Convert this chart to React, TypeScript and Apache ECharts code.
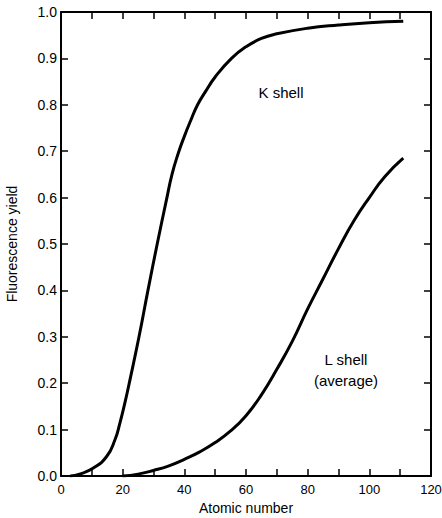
import React, { useEffect, useRef } from "react";
import * as echarts from "echarts";

const kShellZ = [3, 6, 10.5, 14.8, 17.5, 19.1, 20.7, 22.3, 25.3, 28.2, 31.2, 34.2, 36, 38, 40, 42, 44.3, 47, 50, 55.3, 60, 65, 70, 80, 90, 100, 111];
const kShellYield = [0, 0.004, 0.017, 0.042, 0.078, 0.114, 0.157, 0.205, 0.3, 0.4, 0.5, 0.595, 0.65, 0.695, 0.732, 0.765, 0.8, 0.83, 0.86, 0.9, 0.925, 0.943, 0.953, 0.965, 0.972, 0.977, 0.98];
const lShellZ = [20, 25, 30, 35, 40, 45, 50, 55, 60, 65, 70, 75, 80, 85, 90, 95, 100, 105, 111];
const lShellYield = [0, 0.004, 0.012, 0.022, 0.036, 0.052, 0.072, 0.097, 0.13, 0.175, 0.23, 0.29, 0.36, 0.425, 0.49, 0.55, 0.6, 0.645, 0.685];

const FONT = "'Liberation Sans', Arial, sans-serif";

export default function App() {
  const ref = useRef<HTMLDivElement>(null);
  useEffect(() => {
    document.body.style.margin = "0";
    if (!ref.current) return;
    const chart = echarts.init(ref.current, null, { renderer: "svg" });
    const axisLine = { show: true, onZero: false, lineStyle: { color: "#000", width: 2 } };
    const tick = { show: true, inside: true, length: 7, lineStyle: { color: "#000", width: 1.5 } };
    const minor = { show: true, splitNumber: 2, length: 7, lineStyle: { color: "#000", width: 1.5 } };
    chart.setOption({
      animation: false,
      backgroundColor: "#fff",
      grid: { left: 61, right: 11, top: 12, bottom: 42, containLabel: false, outerBoundsMode: "none" },
      xAxis: [
        {
          type: "value", min: 0, max: 120, interval: 20, position: "bottom",
          axisLine, axisTick: tick, minorTick: minor,
          splitLine: { show: false }, minorSplitLine: { show: false },
          axisLabel: { color: "#000", fontFamily: FONT, fontSize: 13, margin: 7 },
          name: "Atomic number", nameLocation: "middle", nameGap: 25,
          nameTextStyle: { color: "#000", fontFamily: FONT, fontSize: 14 },
        },
        {
          type: "value", min: 0, max: 120, interval: 20, position: "top",
          axisLine, axisTick: tick, minorTick: minor,
          splitLine: { show: false }, minorSplitLine: { show: false }, axisLabel: { show: false },
        },
      ],
      yAxis: [
        {
          type: "value", min: 0, max: 1, interval: 0.1, position: "left",
          axisLine, axisTick: tick, splitLine: { show: false },
          axisLabel: { color: "#000", fontFamily: FONT, fontSize: 14, margin: 4, formatter: (v: number) => v.toFixed(1) },
          name: "Fluorescence yield", nameLocation: "middle", nameGap: 42, nameRotate: 90,
          nameTextStyle: { color: "#000", fontFamily: FONT, fontSize: 14 },
        },
        {
          type: "value", min: 0, max: 1, interval: 0.1, position: "right",
          axisLine, axisTick: tick, splitLine: { show: false }, axisLabel: { show: false },
        },
      ],
      series: [
        {
          type: "line", name: "K shell", smooth: true, showSymbol: false,
          lineStyle: { color: "#000", width: 3 },
          data: kShellZ.map((z, i) => [z, kShellYield[i]]),
        },
        {
          type: "line", name: "L shell", smooth: true, showSymbol: false,
          lineStyle: { color: "#000", width: 3 },
          data: lShellZ.map((z, i) => [z, lShellYield[i]]),
        },
      ],
      graphic: [
        { type: "text", x: 281, y: 92, style: { text: "K shell", font: `15px ${FONT}`, fill: "#000", textAlign: "center", textVerticalAlign: "middle" } },
        { type: "text", x: 346, y: 359, style: { text: "L shell", font: `15px ${FONT}`, fill: "#000", textAlign: "center", textVerticalAlign: "middle" } },
        { type: "text", x: 346, y: 380, style: { text: "(average)", font: `15px ${FONT}`, fill: "#000", textAlign: "center", textVerticalAlign: "middle" } },
      ],
    });
    return () => chart.dispose();
  }, []);
  return <div ref={ref} style={{ width: 442, height: 518 }} />;
}
